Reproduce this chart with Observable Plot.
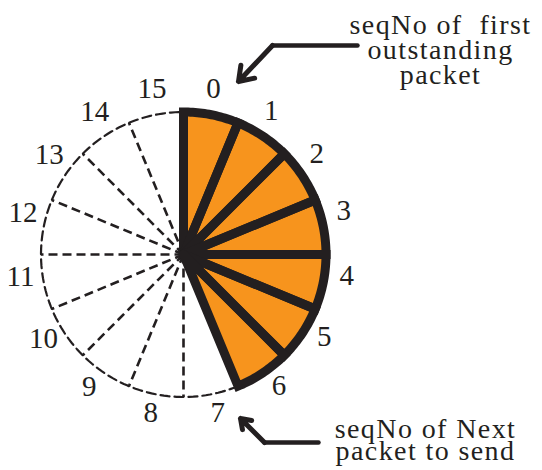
<!DOCTYPE html>
<html><head><meta charset="utf-8">
<script src="https://cdn.jsdelivr.net/npm/d3@7"></script>
<script src="https://cdn.jsdelivr.net/npm/@observablehq/plot@0.6"></script>
<style>
body{margin:0;background:#fff}
svg{display:block}
svg text{white-space:pre}
</style>
</head><body><div id="chart"></div>
<script>
// ---- data ----
const seqNos = [0,1,2,3,4,5,6,7,8,9,10,11,12,13,14,15];
const seqLabels = ["0","1","2","3","4","5","6","7","8","9","10","11","12","13","14","15"];
const firstOutstanding = 0;   // seqNo of first outstanding packet
const nextToSend = 7;         // seqNo of next packet to send
const topNote = ["seqNo of  first", "outstanding", "packet"];
const bottomNote = ["seqNo of Next", "packet to send"];

// ---- layout ----
const W = 542, H = 470;
const cx = 183, cy = 254, R = 142.5;
const N = seqNos.length, step = 360 / N;
const ORANGE = "#F7941D", INK = "#231F20";
const FONT = "'Liberation Serif', 'Times New Roman', 'DejaVu Serif', serif";
const rad = a => a * Math.PI / 180;
const px = (r, a) => cx + r * Math.sin(rad(a));
const py = (r, a) => cy - r * Math.cos(rad(a));

const inWindow = s => s >= firstOutstanding && s < nextToSend;
const outstanding = seqNos.filter(inWindow);
const free = seqNos.filter(s => !inWindow(s));

// sector polygons
const sectorPts = [];
for (const s of outstanding) {
  const a0 = s * step, a1 = a0 + step;
  sectorPts.push({seq: s, x: cx, y: cy});
  for (let i = 0; i <= 24; i++) {
    const a = a0 + (a1 - a0) * i / 24;
    sectorPts.push({seq: s, x: px(R, a), y: py(R, a)});
  }
  sectorPts.push({seq: s, x: cx, y: cy});
}
// dashed outer arc over the free sectors
const arcPts = [];
{
  const a0 = nextToSend * step, a1 = 360;
  for (let i = 0; i <= 120; i++) {
    const a = a0 + (a1 - a0) * i / 120;
    arcPts.push({x: px(R, a), y: py(R, a)});
  }
}
// dashed radial dividers
const dividers = free.filter(s => s !== nextToSend).map(s => ({
  seq: s, x1: cx, y1: cy, x2: px(R, s * step), y2: py(R, s * step)
}));
// number labels just past each sector's start edge
const labels = seqNos.map((s, i) => {
  const a0 = s * step;
  const a = a0 + 11 - 3.7 * Math.sin(rad(a0 + 11));
  const r = 165 + 3.5 * Math.cos(rad(a));
  return {text: seqLabels[i], x: px(r, a), y: py(r, a)};
});

// annotation rows
const topRows = topNote.map((t, i) => ({text: t, x: 440, y: 33 + i * 25}));
const botRows = bottomNote.map((t, i) => ({text: t, x: 425, y: 437 + i * 22}));
const topArrowLine = [{x: 357, y: 45}, {x: 272, y: 45}];
const topArrowHead = [{x1: 272, y1: 45, x2: 238, y2: 81}];
const botArrowLine = [{x: 318, y: 442}, {x: 264, y: 442}];
const botArrowHead = [{x1: 264, y1: 442, x2: 240, y2: 418}];

const chart = Plot.plot({
  width: W, height: H, margin: 0,
  style: {fontFamily: FONT},
  x: {domain: [0, W], range: [0, W], axis: null},
  y: {domain: [0, H], range: [0, H], axis: null},
  marks: [
    Plot.line(arcPts, {x: "x", y: "y", stroke: INK, strokeWidth: 2.2, strokeDasharray: "9,5"}),
    Plot.link(dividers, {x1: "x1", y1: "y1", x2: "x2", y2: "y2", stroke: INK, strokeWidth: 2.6, strokeDasharray: "9,5"}),
    Plot.line(sectorPts, {x: "x", y: "y", z: "seq", fill: ORANGE, stroke: "none"}),
    Plot.line(sectorPts, {x: "x", y: "y", z: "seq", stroke: INK, strokeWidth: 9, strokeLinejoin: "miter", strokeMiterlimit: 10}),
    Plot.text(labels, {x: "x", y: "y", text: "text", fontSize: 29, fontFamily: FONT, fill: INK}),
    Plot.text(topRows, {x: "x", y: "y", text: "text", fontSize: 28, fontFamily: FONT, fill: INK, lineAnchor: "bottom"}),
    Plot.text(botRows, {x: "x", y: "y", text: "text", fontSize: 28, fontFamily: FONT, fill: INK, lineAnchor: "bottom"}),
    Plot.line(topArrowLine, {x: "x", y: "y", stroke: INK, strokeWidth: 4.5}),
    Plot.arrow(topArrowHead, {x1: "x1", y1: "y1", x2: "x2", y2: "y2", stroke: INK, strokeWidth: 5, headLength: 16, headAngle: 70}),
    Plot.line(botArrowLine, {x: "x", y: "y", stroke: INK, strokeWidth: 4.5}),
    Plot.arrow(botArrowHead, {x1: "x1", y1: "y1", x2: "x2", y2: "y2", stroke: INK, strokeWidth: 5, headLength: 16, headAngle: 70})
  ]
});
// widen the annotation lettering like the reference
const notes = new Set([...topNote, ...bottomNote]);
d3.select(chart).selectAll("text").filter(function() { return notes.has(this.textContent); })
  .style("letter-spacing", "1.4px");
document.getElementById("chart").appendChild(chart);
</script>
</body></html>
